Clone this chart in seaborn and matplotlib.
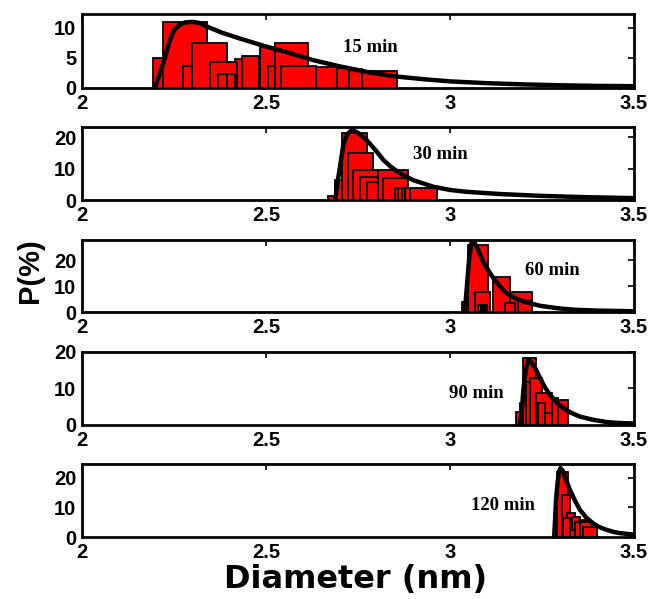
import matplotlib
matplotlib.use("Agg")
import matplotlib.pyplot as plt
import seaborn as sns
import pandas as pd

# ---- histogram bins: left edge, right edge, percentage ----
h15_lo = [2.194, 2.219, 2.275, 2.298, 2.348, 2.370, 2.393, 2.416, 2.434, 2.484, 2.505, 2.525, 2.540, 2.635, 2.694, 2.726, 2.762]
h15_hi = [2.219, 2.339, 2.298, 2.393, 2.420, 2.393, 2.416, 2.434, 2.480, 2.525, 2.525, 2.615, 2.635, 2.694, 2.726, 2.762, 2.855]
h15_pct = [5.0, 11.0, 3.7, 7.45, 4.4, 2.4, 2.4, 4.9, 5.4, 6.8, 3.7, 7.55, 3.67, 3.5, 3.3, 3.2, 2.9]

h30_lo = [2.669, 2.688, 2.706, 2.724, 2.737, 2.755, 2.774, 2.805, 2.819, 2.851, 2.860, 2.869, 2.878, 2.891]
h30_hi = [2.688, 2.706, 2.774, 2.792, 2.805, 2.805, 2.805, 2.887, 2.887, 2.860, 2.869, 2.878, 2.891, 2.964]
h30_pct = [1.3, 6.3, 21.2, 14.8, 9.5, 7.4, 5.8, 9.5, 6.9, 3.7, 3.7, 3.7, 3.7, 3.7]

h60_lo = [3.032, 3.050, 3.068, 3.077, 3.083, 3.089, 3.095, 3.118, 3.149, 3.163, 3.185]
h60_hi = [3.041, 3.104, 3.109, 3.083, 3.089, 3.095, 3.100, 3.163, 3.176, 3.222, 3.222]
h60_pct = [4.0, 25.8, 7.8, 2.7, 2.7, 2.7, 2.7, 13.6, 3.3, 7.8, 4.6]

h90_lo = [3.179, 3.189, 3.199, 3.207, 3.217, 3.234, 3.240, 3.258, 3.276, 3.294]
h90_hi = [3.190, 3.199, 3.234, 3.217, 3.249, 3.276, 3.258, 3.276, 3.294, 3.321]
h90_pct = [3.6, 5.9, 18.4, 11.9, 12.8, 8.7, 5.9, 3.2, 7.3, 6.8]

h120_lo = [3.292, 3.304, 3.308, 3.317, 3.326, 3.331, 3.340, 3.349, 3.353, 3.362]
h120_hi = [3.321, 3.326, 3.326, 3.340, 3.340, 3.353, 3.358, 3.372, 3.385, 3.399]
h120_pct = [22.1, 14.2, 6.3, 8.0, 2.5, 6.9, 5.2, 5.8, 5.2, 3.5]

# ---- fitted size distributions ----
f15_d = [2.198, 2.212, 2.226, 2.238, 2.25, 2.265, 2.28, 2.30, 2.32, 2.34, 2.38, 2.43, 2.50, 2.565,
         2.63, 2.70, 2.78, 2.855, 2.93, 3.0, 3.1, 3.2, 3.3, 3.4, 3.5]
f15_p = [0, 2.5, 5.2, 7.8, 9.6, 10.5, 10.9, 11.0, 10.8, 10.2, 9.2, 8.2, 6.9, 5.8,
         4.6, 3.6, 2.6, 1.9, 1.45, 1.1, 0.8, 0.6, 0.45, 0.35, 0.3]

f30_d = [2.688, 2.695, 2.703, 2.71, 2.72, 2.733, 2.748, 2.774, 2.80, 2.819, 2.84, 2.864, 2.90,
         2.955, 3.0, 3.045, 3.136, 3.25, 3.37, 3.5]
f30_p = [0, 6, 12, 17.5, 20.8, 22.2, 21.5, 19, 15.5, 12.7, 10.5, 8.5, 6.3,
         4.2, 3.2, 2.6, 1.9, 1.3, 0.9, 0.6]

f60_d = [3.040, 3.046, 3.052, 3.058, 3.065, 3.075, 3.09, 3.105, 3.118, 3.135, 3.154, 3.175, 3.2,
         3.245, 3.29, 3.334, 3.4, 3.5]
f60_p = [0, 10, 20.5, 26.5, 27, 24.5, 19.3, 15.8, 13, 10, 7.2, 5.5, 4,
         2.4, 1.5, 0.9, 0.55, 0.3]

f90_d = [3.190, 3.196, 3.199, 3.203, 3.207, 3.213, 3.22, 3.232, 3.245, 3.258, 3.272, 3.29, 3.308,
         3.33, 3.353, 3.39, 3.426, 3.46, 3.5]
f90_p = [0, 5, 9.1, 13, 15.5, 17.8, 17.3, 15.5, 12.8, 10.3, 8.2, 6.2, 4.6,
         3.3, 2.3, 1.4, 0.8, 0.55, 0.4]

f120_d = [3.283, 3.286, 3.288, 3.292, 3.296, 3.300, 3.306, 3.315, 3.326, 3.34, 3.353, 3.37, 3.389,
          3.405, 3.426, 3.445, 3.462, 3.5]
f120_p = [0, 7, 12.5, 18, 22, 23.3, 22.5, 19.5, 15.9, 12.2, 9.2, 6.6, 4.6,
          3.4, 2.4, 1.7, 1.3, 0.8]

labels = ["15 min", "30 min", "60 min", "90 min", "120 min"]
x_ticks = [2, 2.5, 3, 3.5]
x_ticklabels = ["2", "2.5", "3", "3.5"]
y_ticks = [[0, 5, 10], [0, 10, 20], [0, 10, 20], [0, 10, 20], [0, 10, 20]]
y_tops = [12.3, 23.2, 27.7, 20.0, 24.7]

hists = [(h15_lo, h15_hi, h15_pct), (h30_lo, h30_hi, h30_pct), (h60_lo, h60_hi, h60_pct),
         (h90_lo, h90_hi, h90_pct), (h120_lo, h120_hi, h120_pct)]
fits = [(f15_d, f15_p), (f30_d, f30_p), (f60_d, f60_p), (f90_d, f90_p), (f120_d, f120_p)]

sns.set_style("white")
plt.rcParams["font.family"] = ["Liberation Sans", "DejaVu Sans"]
plt.rcParams["text.color"] = "black"
plt.rcParams["axes.labelcolor"] = "black"
plt.rcParams["xtick.color"] = "black"
plt.rcParams["ytick.color"] = "black"

fig = plt.figure(figsize=(6.52, 5.99), dpi=100)

# panel geometry (figure fraction) and label placement (axes fraction)
panel_bottoms = [0.8531, 0.6661, 0.4791, 0.2905, 0.1035]
panel_heights = [0.1235, 0.1219, 0.1202, 0.1219, 0.1219]
label_pos = [(0.522, 0.554), (0.650, 0.63), (0.853, 0.583), (0.714, 0.425), (0.763, 0.425)]

for i in range(5):
    ax = fig.add_axes([0.1258, panel_bottoms[i], 0.8466, panel_heights[i]])
    lo, hi, pct = hists[i]
    df = pd.DataFrame({"lo": lo, "hi": hi, "pct": pct})
    df["w"] = df["hi"] - df["lo"]
    # taller bins first so the narrower, shorter bins sit on top of them
    df = df.sort_values("pct", ascending=False, kind="stable").reset_index(drop=True)
    for k, row in df.iterrows():
        ax.bar(row["lo"], row["pct"], width=row["w"], align="edge",
               color="#ff0000", edgecolor="black", linewidth=1.3, zorder=2 + k * 0.01)

    d, p = fits[i]
    sns.lineplot(x=d, y=p, ax=ax, color="black", linewidth=3.2, zorder=5, sort=False)

    ax.set_xlim(2, 3.5)
    ax.set_ylim(0, y_tops[i])
    ax.set_xticks(x_ticks)
    ax.set_xticklabels(x_ticklabels)
    ax.set_yticks(y_ticks[i])
    ax.set_yticklabels([str(t) for t in y_ticks[i]])
    ax.tick_params(direction="in", top=True, right=True, length=4, width=1.2,
                   labelsize=14.5, pad=4, colors="black", labelcolor="black")
    for lab in ax.get_xticklabels() + ax.get_yticklabels():
        lab.set_fontweight("bold")
        lab.set_color("black")
    for s in ax.spines.values():
        s.set_linewidth(2)
        s.set_color("black")
        s.set_zorder(10)
    ax.set_xlabel("")
    ax.set_ylabel("")
    ax.text(label_pos[i][0], label_pos[i][1], labels[i], transform=ax.transAxes,
            ha="center", va="center", fontsize=13.5, fontweight="bold", color="black",
            family=["Liberation Serif", "DejaVu Serif"], zorder=6)

fig.text(0.046, 0.549, "P(%)", rotation=90, ha="center", va="center",
         fontsize=21, fontweight="bold", color="black")
fig.text(0.545, 0.032, "Diameter (nm)", ha="center", va="center",
         fontsize=23, fontweight="bold", color="black", family=["DejaVu Sans"])

fig.savefig("out.png", dpi=100)
